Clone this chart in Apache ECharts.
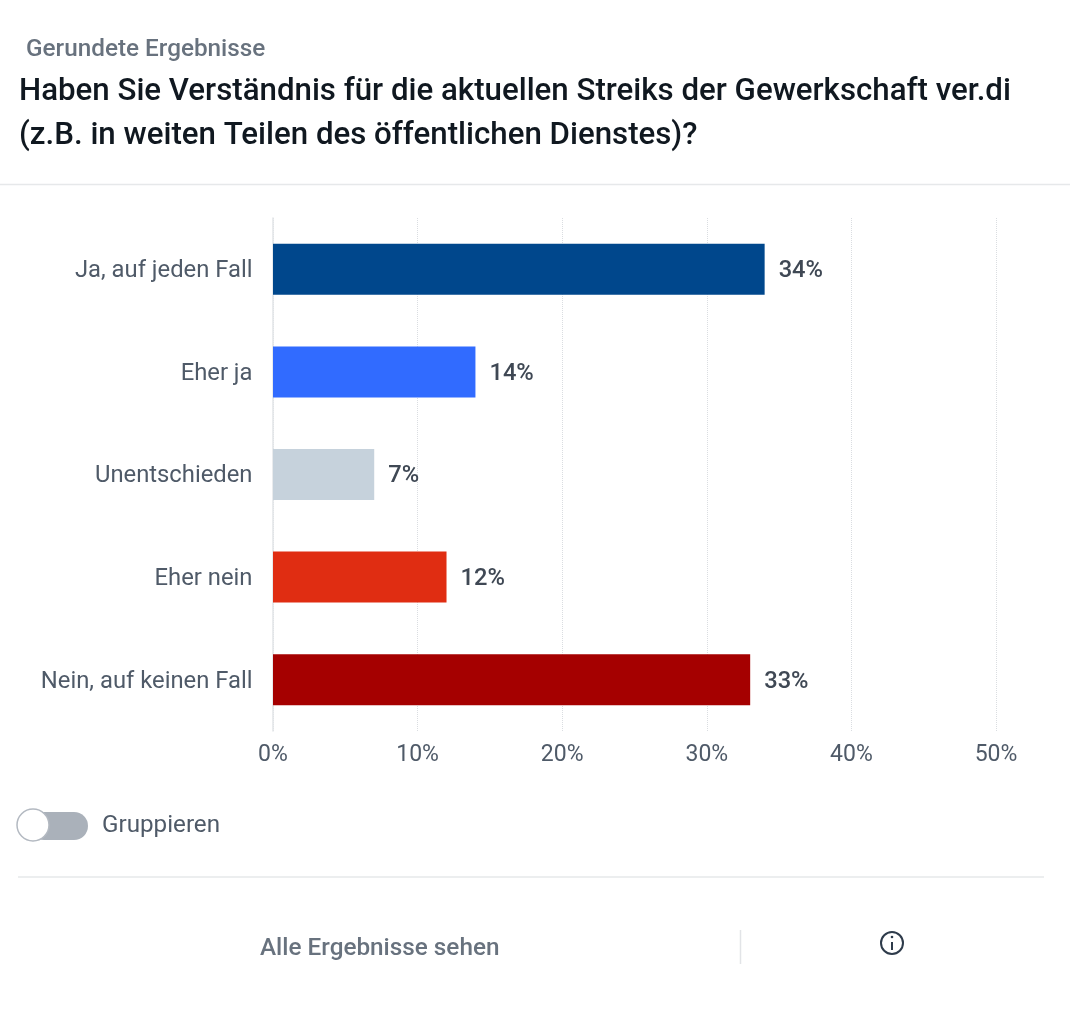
<!DOCTYPE html>
<html><head><meta charset="utf-8">
<style>html,body{margin:0;padding:0;background:#fff}#c{width:1070px;height:1016px}</style>
<script src="https://cdn.jsdelivr.net/npm/echarts@6/dist/echarts.min.js"></script>
</head><body><div id="c"></div>
<script>
const categories = ['Ja, auf jeden Fall','Eher ja','Unentschieden','Eher nein','Nein, auf keinen Fall'];
const values = [34,14,7,12,33];
const barColors = ['#00478c','#316bff','#c6d2dc','#e02d12','#a50000'];
const ticks = [0,10,20,30,40,50];
const font = 'Roboto';
const chart = echarts.init(document.getElementById('c'),null,{renderer:'canvas'});
const txt=(x,y,text,size,weight,fill)=>({type:'text',x,y,style:{text,font:`${weight} ${size}px ${font}`,fill,verticalAlign:'middle'}});
const line=(x1,y1,x2,y2,stroke)=>({type:'line',shape:{x1,y1,x2,y2},style:{stroke,lineWidth:1.5}});
chart.setOption({
  animation:false,
  backgroundColor:'#fff',
  grid:{left:273,top:218,width:723,height:513,containLabel:false},
  xAxis:{type:'value',min:ticks[0],max:ticks[ticks.length-1],interval:10,
    axisLine:{show:false},axisTick:{show:false},
    axisLabel:{margin:13,color:'#4f5a68',fontFamily:font,fontSize:23,formatter:v=>v+'%'},
    splitLine:{show:true,lineStyle:{color:'#dadde1',type:'dotted',width:1}}},
  yAxis:{type:'category',inverse:true,data:categories,
    axisLine:{show:true,lineStyle:{color:'#e2e4e7',width:1.5}},axisTick:{show:false},
    axisLabel:{margin:20.5,formatter:v=>'{a|'+v+'}',
      rich:{a:{color:'#4f5a68',fontFamily:font,fontSize:23.8,padding:[4,0,0,0]}}}},
  series:[{type:'bar',barWidth:51,
    data:values.map((v,i)=>({value:v,itemStyle:{color:barColors[i]}})),
    label:{show:true,position:'right',distance:14,offset:[0,2],formatter:p=>p.value+'%',color:'#3f4854',fontFamily:font,fontSize:23.7,fontWeight:500}}],
  graphic:[
    txt(26,50,'Gerundete Ergebnisse',24.3,500,'#68727e'),
    txt(19,92,'Haben Sie Verständnis für die aktuellen Streiks der Gewerkschaft ver.di',31.25,500,'#101820'),
    txt(19,136,'(z.B. in weiten Teilen des öffentlichen Dienstes)?',31.25,500,'#101820'),
    line(0,184.5,1070,184.5,'#e6e8ea'),
    {type:'rect',shape:{x:30,y:812,width:58,height:28,r:14},style:{fill:'#aab1ba'}},
    {type:'circle',shape:{cx:33,cy:825,r:16},style:{fill:'#fff',stroke:'#b3b9c1',lineWidth:1.5}},
    txt(102,826,'Gruppieren',24.2,400,'#4f5a68'),
    line(18,877,1044,877,'#e6e8ea'),
    txt(260,949,'Alle Ergebnisse sehen',24.3,500,'#68727e'),
    line(740.5,930,740.5,964,'#e2e4e7'),
    {type:'circle',shape:{cx:892,cy:943,r:11},style:{fill:'none',stroke:'#2e3b4b',lineWidth:2}},
    {type:'line',shape:{x1:892,y1:942,x2:892,y2:950},style:{stroke:'#2e3b4b',lineWidth:2}},
    {type:'circle',shape:{cx:892,cy:937,r:1.3},style:{fill:'#2e3b4b'}}
  ]
});
</script></body></html>
